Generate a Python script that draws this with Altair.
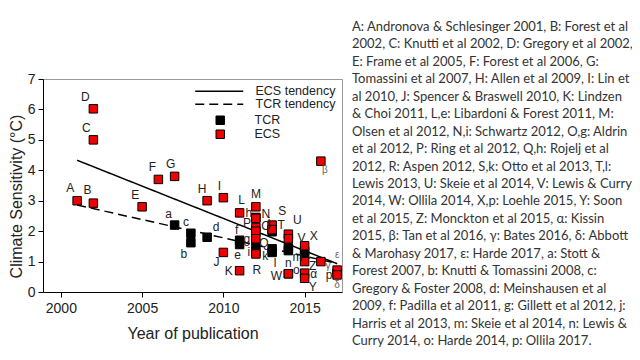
import altair as alt
import pandas as pd

# ---------------- data ----------------
ECS_LABELS = ["A", "B", "C", "D", "E", "F", "G", "H", "I", "J", "K", "L", "M", "N",
              "P", "O", "Q", "R", "S", "T", "U", "V", "W", "X", "Z", "α", "Y", "β",
              "γ", "ε", "δ"]
ECS_YEARS = [2001, 2002, 2002, 2002, 2005, 2006, 2007, 2009, 2010, 2010, 2011, 2011,
             2012, 2012, 2012, 2012, 2012, 2012, 2013, 2013, 2014, 2014, 2014, 2015,
             2015, 2015, 2015, 2016, 2016, 2017, 2017]
ECS_VALUES = [3.00, 2.92, 5.00, 6.02, 2.80, 3.70, 3.80, 3.00, 3.10, 1.30, 0.70, 2.60,
              2.80, 2.42, 2.12, 2.00, 1.75, 1.25, 2.20, 2.05, 1.90, 1.75, 0.60, 1.52,
              1.00, 0.62, 0.45, 4.30, 1.00, 0.72, 0.56]

TCR_LABELS = ["a", "c", "b", "d", "f", "e", "h", "g", "i", "j", "k", "l", "m", "n",
              "o", "", "", "p"]
TCR_YEARS = [2007, 2008, 2008, 2009, 2011, 2011, 2012, 2012, 2012, 2013, 2013, 2013,
             2014, 2014, 2014, 2015, 2015, 2017]
TCR_VALUES = [2.20, 1.93, 1.62, 1.80, 1.70, 1.56, 2.45, 1.58, 1.32, 1.98, 1.42, 1.30,
              1.45, 1.36, 0.60, 1.35, 1.22, 0.62]

TREND_YEARS = [2001, 2017]
ECS_TREND = [4.33, 0.93]
TCR_TREND = [2.86, 0.94]

X_TICKS = [2000, 2005, 2010, 2015]
Y_TICKS = [0, 1, 2, 3, 4, 5, 6, 7]

REFERENCE_LINES = [
    "A: Andronova & Schlesinger 2001, B: Forest et al",
    "2002, C: Knutti et al 2002, D: Gregory et al 2002,",
    "E: Frame et al 2005, F: Forest et al 2006, G:",
    "Tomassini et al 2007, H: Allen et al 2009, I: Lin et",
    "al 2010, J: Spencer & Braswell 2010, K: Lindzen",
    "& Choi 2011, L,e: Libardoni & Forest 2011, M:",
    "Olsen et al 2012, N,i: Schwartz 2012, O,g: Aldrin",
    "et al 2012, P: Ring et al 2012, Q,h: Rojelj et al",
    "2012, R: Aspen 2012, S,k: Otto et al 2013, T,l:",
    "Lewis 2013, U: Skeie et al 2014, V: Lewis & Curry",
    "2014, W: Ollila 2014, X,p: Loehle 2015, Y: Soon",
    "et al 2015, Z: Monckton et al 2015, α: Kissin",
    "2015, β: Tan et al  2016, γ: Bates 2016, δ: Abbott",
    "& Marohasy 2017, ε: Harde 2017, a: Stott &",
    "Forest 2007, b: Knutti & Tomassini 2008, c:",
    "Gregory & Foster 2008, d: Meinshausen et al",
    "2009, f: Padilla et al 2011, g: Gillett et al 2012, j:",
    "Harris et al 2013, m: Skeie et al 2014, n: Lewis &",
    "Curry 2014, o: Harde 2014, p: Ollila 2017.",
]

# label placement (pixel offsets from each square)
LABEL_OFFSETS = {
    "A": (-7, -13), "B": (-6, -13), "C": (-7, -12), "D": (-8, -12), "E": (-7, -12),
    "F": (-6, -12), "G": (-4, -12), "H": (-5, -12), "I": (-4, -12), "J": (-7, 10),
    "K": (-11, 0), "L": (2, -13), "M": (0, -13), "N": (10, -4), "P": (-9, -4),
    "O": (10, -5), "Q": (8, 4), "R": (1, 16), "S": (10, -14), "T": (9, -5),
    "U": (9, -14), "V": (13, -1), "W": (-12, 2), "X": (9, -10), "Z": (8, 4),
    "α": (9, 1), "Y": (8, 9), "β": (4, 9), "γ": (7, 4), "ε": (0, -15), "δ": (0, 10),
    "a": (-6, -11), "c": (-5, -11), "b": (-7, 11), "d": (9, -10), "f": (-3, -10),
    "e": (-2, 10), "h": (-7, -4), "g": (-9, -5), "i": (-7, 0), "j": (-3, -10),
    "k": (-7, 7), "l": (3, 11), "m": (9, 9), "n": (0, 12), "o": (8, -4),
    "p": (-8, 2), "": (0, 0),
}
SMALL_LABELS = ["β", "γ", "δ", "ε"]

X_DOMAIN = [1998.9, 2017.3]
Y_DOMAIN = [0, 7]
W, H = 299, 213
PX_PER_YEAR = W / (X_DOMAIN[1] - X_DOMAIN[0])
PX_PER_UNIT = H / (Y_DOMAIN[1] - Y_DOMAIN[0])

# ---------------- tables ----------------
pts = pd.concat([
    pd.DataFrame({"year": TCR_YEARS, "value": TCR_VALUES, "label": TCR_LABELS, "kind": "TCR"}),
    pd.DataFrame({"year": ECS_YEARS, "value": ECS_VALUES, "label": ECS_LABELS, "kind": "ECS"}),
], ignore_index=True)
pts["dx"] = [LABEL_OFFSETS[l][0] for l in pts["label"]]
pts["dy"] = [LABEL_OFFSETS[l][1] for l in pts["label"]]
pts["small"] = pts["label"].isin(SMALL_LABELS)

trend = pd.concat([
    pd.DataFrame({"year": TREND_YEARS, "value": ECS_TREND, "trend": "ECS tendency"}),
    pd.DataFrame({"year": TREND_YEARS, "value": TCR_TREND, "trend": "TCR tendency"}),
], ignore_index=True)

FONT = "Liberation Sans"
TXT = "#222222"

x_scale = alt.Scale(domain=X_DOMAIN, nice=False, zero=False)
y_scale = alt.Scale(domain=Y_DOMAIN, nice=False)
x_axis = alt.Axis(values=X_TICKS, format="d", title="Year of publication",
                  grid=False, labelPadding=4, titlePadding=10)
y_axis = alt.Axis(values=Y_TICKS, title="Climate Sensitivity (°C)",
                  grid=False, labelPadding=3, titlePadding=3, titleY=117)


def X(field):
    return alt.X(field, scale=x_scale, axis=x_axis)


def Y(field):
    return alt.Y(field, scale=y_scale, axis=y_axis)


lines = alt.Chart(trend).mark_line(color="black", strokeWidth=1.5).encode(
    x=X("year:Q"), y=Y("value:Q"),
    strokeDash=alt.StrokeDash(
        "trend:N",
        scale=alt.Scale(domain=["ECS tendency", "TCR tendency"], range=[[1, 0], [9, 5]]),
        legend=alt.Legend(title=None, orient="none", legendX=170, legendY=6,
                          symbolType="M-4.8,0H4.8", symbolSize=100, symbolStrokeWidth=1.5,
                          symbolStrokeColor="black", labelFont=FONT, labelFontSize=12.5,
                          labelColor=TXT, labelOffset=30, rowPadding=0, padding=0),
    ),
)

squares = alt.Chart(pts).mark_square(size=72, filled=True, stroke="black",
                                     strokeWidth=1, opacity=1).encode(
    x=X("year:Q"), y=Y("value:Q"),
    fill=alt.Fill(
        "kind:N",
        scale=alt.Scale(domain=["TCR", "ECS"], range=["#000000", "#f00000"]),
        legend=alt.Legend(title=None, orient="none", legendX=171, legendY=35,
                          symbolType="square", symbolSize=72, symbolStrokeColor="black",
                          symbolStrokeWidth=1,
                          labelFont=FONT, labelFontSize=12.5, labelColor=TXT,
                          labelOffset=28, rowPadding=1, padding=0),
    ),
)

calc = dict(lx=f"datum.year + datum.dx / {PX_PER_YEAR}",
            ly=f"datum.value - datum.dy / {PX_PER_UNIT}")

labels_big = alt.Chart(pts).transform_filter("!datum.small").transform_calculate(**calc).mark_text(
    font=FONT, fontSize=12, color=TXT).encode(x=X("lx:Q"), y=Y("ly:Q"), text="label:N")
labels_small = alt.Chart(pts).transform_filter("datum.small").transform_calculate(**calc).mark_text(
    font=FONT, fontSize=10, color="#666666").encode(x=X("lx:Q"), y=Y("ly:Q"), text="label:N")

refs = alt.Chart(pd.DataFrame({"k": [0]})).mark_text(
    text=REFERENCE_LINES, align="left", baseline="top", font="Lato", fontSize=13,
    lineHeight=17.45, color="#333333").encode(
    x=alt.value(309), y=alt.value(-58))

chart = alt.layer(lines, squares, labels_big, labels_small, refs).properties(
    width=W, height=H,
    background="white",
    autosize=alt.AutoSizeParams(type="none"),
    padding={"left": 35, "top": 71, "right": 290, "bottom": 55},
).configure_view(stroke="#9a9a9a", strokeWidth=1).configure_axis(
    domainColor="black", tickColor="black", tickSize=5,
    labelFont=FONT, labelFontSize=14, labelColor=TXT,
    titleFont=FONT, titleFontSize=16, titleFontWeight="normal", titleColor=TXT,
)

chart.save("out.html", embed_options={"renderer": "svg", "actions": False})
